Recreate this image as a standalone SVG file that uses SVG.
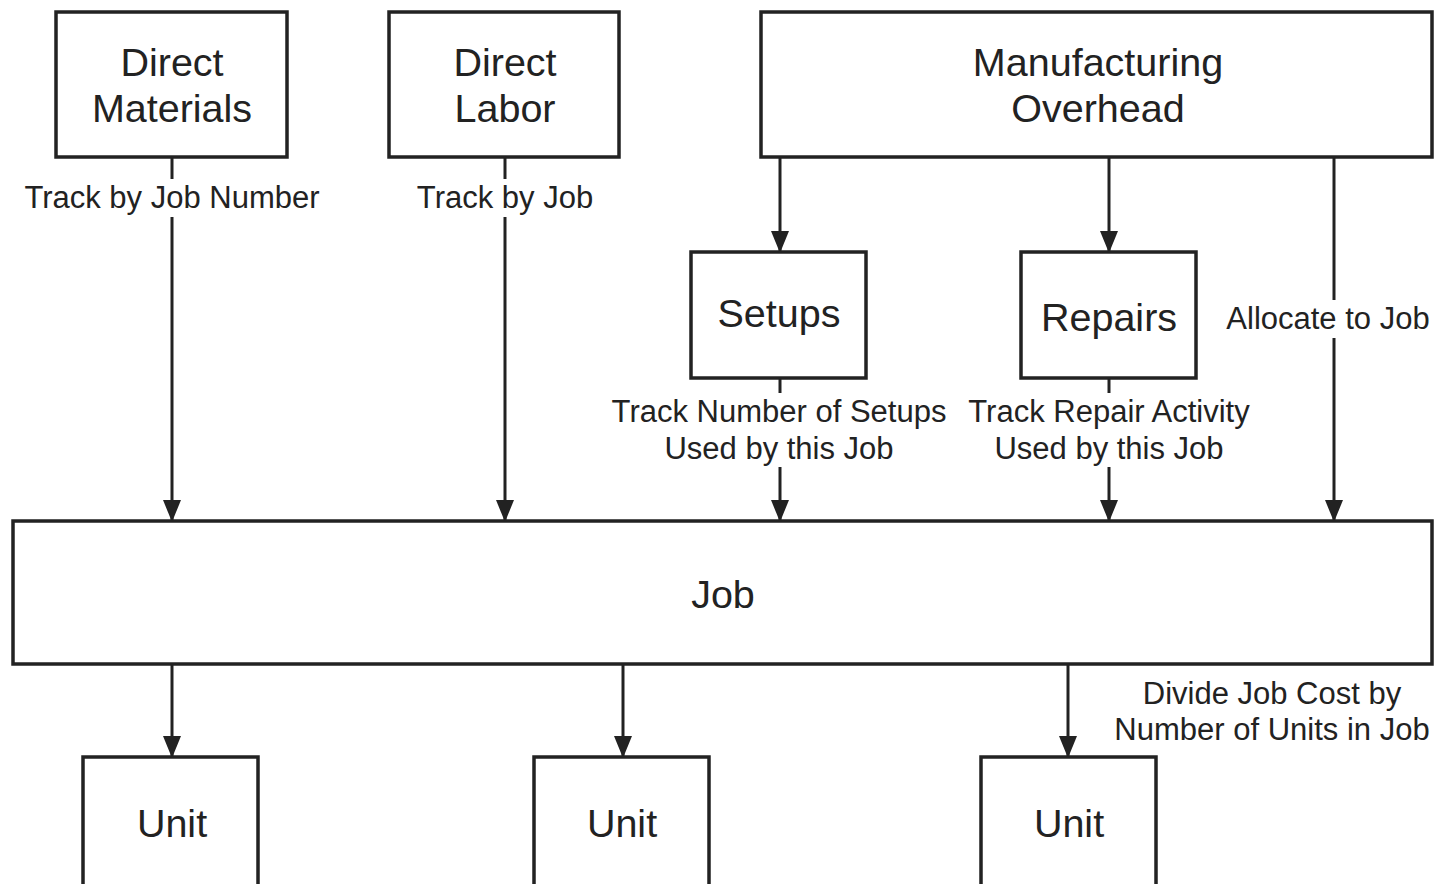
<svg xmlns="http://www.w3.org/2000/svg" width="1440" height="884" viewBox="0 0 1440 884">
  <style>
    .box { fill: #fff; stroke: #222; stroke-width: 3.5; }
    .title { font-family: "Liberation Sans", Arial, sans-serif; font-size: 39.5px; fill: #222; text-anchor: middle; }
    .label { font-family: "Liberation Sans", Arial, sans-serif; font-size: 31px; fill: #222; text-anchor: middle; }
    .wire { fill: none; stroke: #222; stroke-width: 3; }
    .gap { fill: #fff; }
  </style>
  <defs>
    <marker id="head" markerUnits="userSpaceOnUse" markerWidth="22" markerHeight="18" refX="21" refY="9" orient="auto" viewBox="0 0 22 18">
      <path d="M0,0 L22,9 L0,18 Z" fill="#222"/>
    </marker>
  </defs>
  <rect width="1440" height="884" fill="#fff"/>

  <!-- connectors -->
  <g id="connectors">
    <path class="wire" d="M172,157 V521" marker-end="url(#head)"/>
    <path class="wire" d="M505,157 V521" marker-end="url(#head)"/>
    <path class="wire" d="M780,157 V252" marker-end="url(#head)"/>
    <path class="wire" d="M1109,157 V252" marker-end="url(#head)"/>
    <path class="wire" d="M1334,157 V521" marker-end="url(#head)"/>
    <path class="wire" d="M780,378 V521" marker-end="url(#head)"/>
    <path class="wire" d="M1109,378 V521" marker-end="url(#head)"/>
    <path class="wire" d="M172,664 V757" marker-end="url(#head)"/>
    <path class="wire" d="M623,664 V757" marker-end="url(#head)"/>
    <path class="wire" d="M1068,664 V757" marker-end="url(#head)"/>

    <!-- connector labels, each on a white plate that breaks its line -->
    <rect class="gap" x="18" y="179" width="310" height="38"/>
    <text class="label" x="172" y="208">Track by Job Number</text>
    <rect class="gap" x="412" y="179" width="186" height="38"/>
    <text class="label" x="505" y="208">Track by Job</text>
    <rect class="gap" x="1220" y="300" width="216" height="38"/>
    <text class="label" x="1328" y="329">Allocate to Job</text>
    <rect class="gap" x="604" y="393" width="350" height="74"/>
    <text class="label" x="779" y="422">Track Number of Setups</text>
    <text class="label" x="779" y="459">Used by this Job</text>
    <rect class="gap" x="960" y="393" width="298" height="74"/>
    <text class="label" x="1109" y="422">Track Repair Activity</text>
    <text class="label" x="1109" y="459">Used by this Job</text>
    <text class="label" x="1272" y="704">Divide Job Cost by</text>
    <text class="label" x="1272" y="740">Number of Units in Job</text>
  </g>

  <g id="direct-materials">
    <rect class="box" x="56" y="12" width="231" height="145"/>
    <text class="title" x="172" y="76">Direct</text>
    <text class="title" x="172" y="122">Materials</text>
  </g>
  <g id="direct-labor">
    <rect class="box" x="389" y="12" width="230" height="145"/>
    <text class="title" x="505" y="76">Direct</text>
    <text class="title" x="505" y="122">Labor</text>
  </g>
  <g id="manufacturing-overhead">
    <rect class="box" x="761" y="12" width="671" height="145"/>
    <text class="title" x="1098" y="76">Manufacturing</text>
    <text class="title" x="1098" y="122">Overhead</text>
  </g>
  <g id="setups">
    <rect class="box" x="691" y="252" width="175" height="126"/>
    <text class="title" x="779" y="327">Setups</text>
  </g>
  <g id="repairs">
    <rect class="box" x="1021" y="252" width="175" height="126"/>
    <text class="title" x="1109" y="331">Repairs</text>
  </g>
  <g id="job">
    <rect class="box" x="13" y="521" width="1419" height="143"/>
    <text class="title" x="723" y="608">Job</text>
  </g>
  <g id="unit-1">
    <rect class="box" x="83" y="757" width="175" height="140"/>
    <text class="title" x="172" y="837">Unit</text>
  </g>
  <g id="unit-2">
    <rect class="box" x="534" y="757" width="175" height="140"/>
    <text class="title" x="622" y="837">Unit</text>
  </g>
  <g id="unit-3">
    <rect class="box" x="981" y="757" width="175" height="140"/>
    <text class="title" x="1069" y="837">Unit</text>
  </g>
</svg>
